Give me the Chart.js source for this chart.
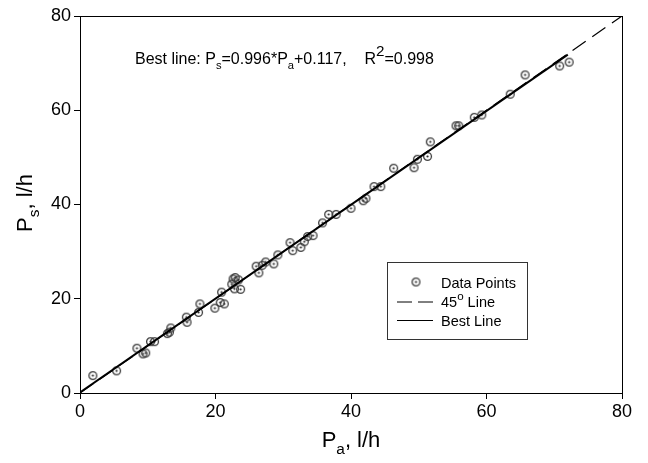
<!DOCTYPE html>
<html>
<head>
<meta charset="utf-8">
<script src="https://cdn.jsdelivr.net/npm/chart.js@4/dist/chart.umd.min.js"></script>
<style>
  body { margin: 0; background: #fff; }
  canvas { display: block; }
</style>
</head>
<body>
<canvas id="main-chart" width="648" height="463"></canvas>
<script>
//data (P_a, P_s in l/h)
const pointsX = [1.9, 5.4, 8.4, 9.3, 9.7, 10.4, 11.0, 12.9, 13.2, 13.4, 15.7, 15.8, 17.5, 17.7, 19.9,
  20.7, 21.3, 20.9, 22.4, 22.6, 22.9, 23.4, 22.8, 23.7, 26.0, 26.4, 26.9, 27.4, 28.6, 29.2,
  31.0, 31.4, 32.6, 33.1, 33.6, 34.4, 35.8, 36.7, 37.8, 40.0, 41.8, 42.2, 43.4, 44.4, 46.3,
  49.3, 49.8, 51.3, 51.7, 55.5, 55.9, 58.2, 59.3, 63.5, 65.7, 70.8, 72.2];
const pointsY = [3.7, 4.7, 9.5, 8.3, 8.5, 10.9, 10.9, 12.6, 12.9, 13.8, 16.1, 15.0, 17.1, 18.9, 18.0,
  19.2, 18.9, 21.4, 23.1, 24.2, 24.5, 24.0, 22.1, 22.0, 26.9, 25.5, 27.1, 27.8, 27.4, 29.3,
  31.9, 30.2, 30.9, 32.1, 33.2, 33.4, 36.1, 37.9, 37.9, 39.2, 40.8, 41.3, 43.8, 43.8, 47.7,
  47.8, 49.6, 50.2, 53.3, 56.7, 56.7, 58.5, 59.0, 63.4, 67.5, 69.4, 70.2];

//45 degree line and best fit line end points
const refLineX = [0, 80];
const refLineY = [0, 80];
const bestLineX = [0, 72];
const bestLineY = [0.12, 71.8];

const labels = ['Data Points', '45° Line', 'Best Line'];

const FONT = '"Liberation Sans", Arial, Helvetica, sans-serif';

function toXY(xs, ys) {
  return xs.map((x, i) => ({ x: x, y: ys[i] }));
}

//small canvas used as the marker (circle with a dot)
function makeMarker() {
  const c = document.createElement('canvas');
  c.width = 11;
  c.height = 11;
  const g = c.getContext('2d');
  g.strokeStyle = '#3a3a3a';
  g.lineWidth = 1.3;
  g.beginPath();
  g.arc(5.5, 5.5, 3.9, 0, Math.PI * 2);
  g.stroke();
  g.fillStyle = '#222';
  g.beginPath();
  g.arc(5.5, 5.5, 1.1, 0, Math.PI * 2);
  g.fill();
  return c;
}
const marker = makeMarker();

//draw text with sub/superscript parts, returns width
function drawRich(ctx, parts, x, y, size, dryRun) {
  let cx = x;
  parts.forEach((p) => {
    const s = p.sub ? size * 0.7 : p.sup ? size * (p.big ? 0.95 : 0.8) : size;
    ctx.font = s + 'px ' + FONT;
    const dy = p.sub ? size * 0.3 : p.sup ? -size * (p.big ? 0.5 : 0.42) : 0;
    if (!dryRun) ctx.fillText(p.t, cx, y + dy);
    cx += ctx.measureText(p.t).width;
  });
  return cx - x;
}

//frame, titles, annotation and legend
const extras = {
  id: 'extras',
  afterDraw(chart) {
    const ctx = chart.ctx;
    const a = chart.chartArea;
    ctx.save();
    ctx.fillStyle = '#000';
    ctx.textBaseline = 'alphabetic';
    ctx.textAlign = 'left';

    //frame
    ctx.strokeStyle = '#000';
    ctx.lineWidth = 1;
    ctx.strokeRect(a.left + 0.5, a.top + 0.5, a.right - a.left, a.bottom - a.top);

    //x title
    const xt = [{ t: 'P' }, { t: 'a', sub: true }, { t: ', l/h' }];
    const xw = drawRich(ctx, xt, 0, 0, 22, true);
    drawRich(ctx, xt, (a.left + a.right) / 2 - xw / 2, 447, 22);

    //y title
    const yt = [{ t: 'P' }, { t: 's', sub: true }, { t: ', l/h' }];
    const yw = drawRich(ctx, yt, 0, 0, 22, true);
    ctx.save();
    ctx.translate(32, 203);
    ctx.rotate(-Math.PI / 2);
    drawRich(ctx, yt, -yw / 2, 0, 22);
    ctx.restore();

    //annotation
    drawRich(ctx, [
      { t: 'Best line: P' }, { t: 's', sub: true }, { t: '=0.996*P' }, { t: 'a', sub: true },
      { t: '+0.117,    R' }, { t: '2', sup: true, big: true }, { t: '=0.998' }
    ], 135, 64, 16);

    //legend
    const lx = 387, ly = 262;
    ctx.strokeStyle = '#333';
    ctx.lineWidth = 1;
    ctx.strokeRect(lx + 0.5, ly + 0.5, 140, 77);
    ctx.drawImage(marker, 416 - 5.5, 282 - 5.5);
    ctx.strokeStyle = '#000';
    ctx.setLineDash([15, 6]);
    ctx.beginPath();
    ctx.moveTo(397, 302);
    ctx.lineTo(433, 302);
    ctx.stroke();
    ctx.setLineDash([]);
    ctx.beginPath();
    ctx.moveTo(397, 320.5);
    ctx.lineTo(433, 320.5);
    ctx.stroke();
    ctx.fillStyle = '#000';
    drawRich(ctx, [{ t: labels[0] }], 441, 287.5, 14.5);
    drawRich(ctx, [{ t: '45' }, { t: 'o', sup: true }, { t: ' Line' }], 441, 306.5, 14.5);
    drawRich(ctx, [{ t: labels[2] }], 441, 325.5, 14.5);
    ctx.restore();
  }
};

const chart_elem = document.getElementById('main-chart');
const main_chart = new Chart(chart_elem, {
  type: 'scatter',
  data: {
    datasets: [
      {
        label: labels[1],
        type: 'line',
        data: toXY(refLineX, refLineY),
        borderColor: '#000',
        borderWidth: 1.2,
        borderDash: [16, 8],
        pointRadius: 0,
        fill: false
      },
      {
        label: labels[2],
        type: 'line',
        data: toXY(bestLineX, bestLineY),
        borderColor: '#000',
        borderWidth: 2,
        pointRadius: 0,
        fill: false
      },
      {
        label: labels[0],
        data: toXY(pointsX, pointsY),
        pointStyle: marker,
        pointRadius: 5
      }
    ]
  },
  options: {
    responsive: false,
    animation: false,
    devicePixelRatio: 1,
    layout: { padding: { top: 16, right: 26, left: 0, bottom: 0 } },
    plugins: {
      legend: { display: false },
      tooltip: { enabled: false }
    },
    scales: {
      x: {
        type: 'linear',
        min: 0,
        max: 80,
        ticks: { stepSize: 20, color: '#000', font: { family: FONT, size: 18 }, padding: 2 },
        grid: { drawOnChartArea: false, tickLength: 6, color: '#000' },
        border: { color: '#000' },
        afterFit: (scale) => { scale.height = 70; }
      },
      y: {
        type: 'linear',
        min: 0,
        max: 80,
        ticks: { stepSize: 20, color: '#000', font: { family: FONT, size: 18 }, padding: 3 },
        grid: { drawOnChartArea: false, tickLength: 6, color: '#000' },
        border: { color: '#000' },
        afterFit: (scale) => { scale.width = 80; }
      }
    }
  },
  plugins: [extras]
});
</script>
</body>
</html>
